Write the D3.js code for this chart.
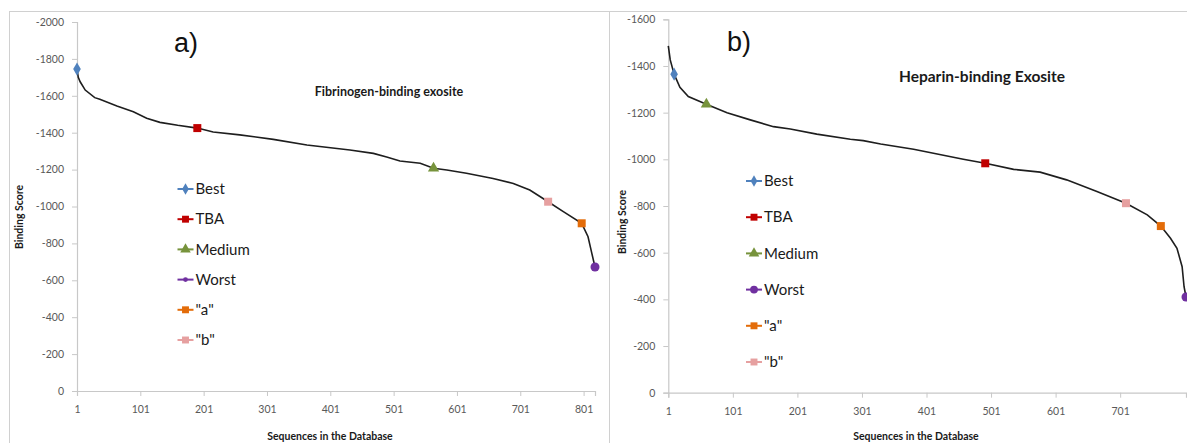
<!DOCTYPE html>
<html>
<head>
<meta charset="utf-8">
<script src="https://cdn.jsdelivr.net/npm/d3@7"></script>
<style>
  body { margin: 0; background: #fff; }
  svg { display: block; }
</style>
</head>
<body>
<script>
// ---- data ----
// panel a) Fibrinogen-binding exosite : [sequence rank, binding score]
var curveA = [[1,-1745],[3,-1700],[6,-1676],[14,-1631],[29,-1590],[37,-1581],[64,-1545],
  [90,-1514],[111,-1478],[132,-1456],[160,-1440],[191,-1425],[216,-1404],[258,-1388],
  [311,-1364],[364,-1333],[432,-1306],[469,-1288],[490,-1268],[511,-1247],[543,-1234],
  [564,-1207],[585,-1198],[616,-1180],[658,-1152],[690,-1125],[716,-1089],[745,-1026],
  [769,-972],[798,-909],[808,-836],[814,-746],[819,-672]];
var pointsA = [[1,-1745],[191,-1425],[564,-1207],[819,-672],[798,-909],[745,-1026]];

// panel b) Heparin-binding Exosite
var curveB = [[1,-1486],[4,-1426],[10,-1365],[19,-1309],[32,-1269],[60,-1236],[92,-1200],
  [128,-1169],[164,-1140],[190,-1130],[231,-1108],[283,-1086],[303,-1080],[330,-1066],
  [381,-1043],[458,-1000],[492,-983],[536,-957],[577,-945],[618,-912],[665,-862],
  [710,-812],[743,-762],[764,-714],[779,-662],[789,-619],[797,-540],[800,-454],[803,-410]];
var pointsB = [[10,-1365],[492,-983],[60,-1236],[803,-410],[764,-714],[710,-812]];

var seriesNames = ["Best", "TBA", "Medium", "Worst", "\"a\"", "\"b\""];
var seriesColors = ["#4f81bd", "#c00000", "#77933c", "#7030a0", "#e36c09", "#e6a0a0"];
var seriesShapes = [d3.symbolDiamond, d3.symbolSquare, d3.symbolTriangle, d3.symbolCircle, d3.symbolSquare, d3.symbolSquare];

var xTicksA = [1, 101, 201, 301, 401, 501, 601, 701, 801];
var yTicksA = [0, -200, -400, -600, -800, -1000, -1200, -1400, -1600, -1800, -2000];
var xTicksB = [1, 101, 201, 301, 401, 501, 601, 701];
var yTicksB = [0, -200, -400, -600, -800, -1000, -1200, -1400, -1600];

var W = 1187, H = 443;
var font = "Lato, 'Open Sans', sans-serif";

var svg = d3.select("body").append("svg")
    .attr("width", W)
    .attr("height", H);

// panel frames
svg.append("rect").attr("x", 9.5).attr("y", 11.5).attr("width", 600).attr("height", 460)
    .attr("fill", "none").attr("stroke", "#d0d0d0");
svg.append("rect").attr("x", 609.5).attr("y", 11.5).attr("width", 600).attr("height", 460)
    .attr("fill", "none").attr("stroke", "#d0d0d0");

// plain hyphen for negatives, like the original
function plain(d) { return String(d); }

function drawPanel(p) {
    var g = svg.append("g");

    var x = d3.scaleLinear().domain(p.xDomain).range(p.xRange);
    var y = d3.scaleLinear().domain(p.yDomain).range(p.yRange);

    // y axis
    var yAxis = g.append("g")
        .attr("transform", "translate(" + p.xRange[0] + ",0)")
        .call(d3.axisLeft(y).tickValues(p.yTicks).tickSize(5).tickPadding(8).tickFormat(plain));
    // x axis
    var xAxis = g.append("g")
        .attr("transform", "translate(0," + p.yRange[0] + ")")
        .call(d3.axisBottom(x).tickValues(p.xTicks).tickSize(5).tickPadding(10).tickFormat(plain));

    [xAxis, yAxis].forEach(function(a) {
        a.select(".domain").attr("stroke", "#c8c8c8").attr("stroke-width", 1.2);
        a.selectAll(".tick line").attr("stroke", "#c8c8c8");
        a.selectAll(".tick text").attr("fill", "#595959")
            .style("font-family", font).style("font-size", "10.5px");
    });

    // the sorted score curve
    var line = d3.line()
        .x(function(d) { return x(d[0]); })
        .y(function(d) { return y(d[1]); });
    g.append("path")
        .datum(p.curve)
        .attr("d", line)
        .attr("fill", "none")
        .attr("stroke", "#1e1e1e")
        .attr("stroke-width", 1.6);

    // highlighted sequences
    g.selectAll(".pt")
        .data(p.points)
        .enter()
        .append("path")
        .attr("class", "pt")
        .attr("transform", function(d) { return "translate(" + x(d[0]) + "," + y(d[1]) + ")"; })
        .attr("d", function(d, i) {
            var s = seriesShapes[i] === d3.symbolTriangle ? 55 : (seriesShapes[i] === d3.symbolDiamond ? 50 : 64);
            return d3.symbol().type(seriesShapes[i]).size(s)();
        })
        .attr("fill", function(d, i) { return seriesColors[i]; });

    // legend
    var leg = g.selectAll(".leg")
        .data(seriesNames)
        .enter()
        .append("g")
        .attr("class", "leg")
        .attr("transform", function(d, i) { return "translate(" + p.legX + "," + (p.legY + i * p.legStep) + ")"; });
    leg.append("line")
        .attr("x1", -8).attr("x2", 8)
        .attr("stroke", function(d, i) { return seriesColors[i]; })
        .attr("stroke-width", 2);
    leg.append("path")
        .attr("d", function(d, i) {
            var s = seriesShapes[i] === d3.symbolCircle && p.smallWorst ? 18 :
                (seriesShapes[i] === d3.symbolDiamond ? 38 : 48);
            return d3.symbol().type(seriesShapes[i]).size(s)();
        })
        .attr("fill", function(d, i) { return seriesColors[i]; });
    leg.append("text")
        .attr("x", 10)
        .attr("dy", "0.35em")
        .text(function(d) { return d; })
        .attr("fill", "#1a1a1a")
        .style("font-family", font)
        .style("font-size", p.legFont);

    // titles
    g.append("text")
        .attr("x", p.titleX).attr("y", p.titleY)
        .attr("text-anchor", "middle")
        .text(p.title)
        .attr("fill", "#1a1a1a")
        .style("font-family", font)
        .style("font-weight", "bold")
        .style("font-size", p.titleFont);
    g.append("text")
        .attr("x", p.tagX).attr("y", p.tagY)
        .text(p.tag)
        .attr("fill", "#111")
        .style("font-family", "'Liberation Sans', Arial, sans-serif")
        .style("font-size", "27px");

    g.append("text")
        .attr("transform", "translate(" + p.yTitleX + "," + p.yTitleY + ") rotate(-90)")
        .attr("text-anchor", "middle")
        .text("Binding Score")
        .attr("fill", "#1a1a1a")
        .style("font-family", font)
        .style("font-weight", "bold")
        .style("font-size", "10.5px");
    g.append("text")
        .attr("x", p.xTitleX).attr("y", p.xTitleY)
        .attr("text-anchor", "middle")
        .text("Sequences in the Database")
        .attr("fill", "#1a1a1a")
        .style("font-family", font)
        .style("font-weight", "bold")
        .style("font-size", "10.5px");
}

drawPanel({
    curve: curveA, points: pointsA,
    xDomain: [1, 819], xRange: [77, 595],
    yDomain: [0, -2000], yRange: [391, 22],
    xTicks: xTicksA, yTicks: yTicksA,
    legX: 185.5, legY: 189, legStep: 30.2, legFont: "15px", smallWorst: true,
    title: "Fibrinogen-binding exosite", titleX: 389, titleY: 96, titleFont: "12.5px",
    tag: "a)", tagX: 174, tagY: 52,
    yTitleX: 23, yTitleY: 217, xTitleX: 330, xTitleY: 440
});

drawPanel({
    curve: curveB, points: pointsB,
    xDomain: [1, 803], xRange: [668.3, 1186],
    yDomain: [0, -1600], yRange: [392.7, 19.3],
    xTicks: xTicksB, yTicks: yTicksB,
    legX: 754, legY: 181, legStep: 36.2, legFont: "15px", smallWorst: false,
    title: "Heparin-binding Exosite", titleX: 982, titleY: 82, titleFont: "15.5px",
    tag: "b)", tagX: 727, tagY: 51,
    yTitleX: 626, yTitleY: 222, xTitleX: 916, xTitleY: 440
});
</script>
</body>
</html>
